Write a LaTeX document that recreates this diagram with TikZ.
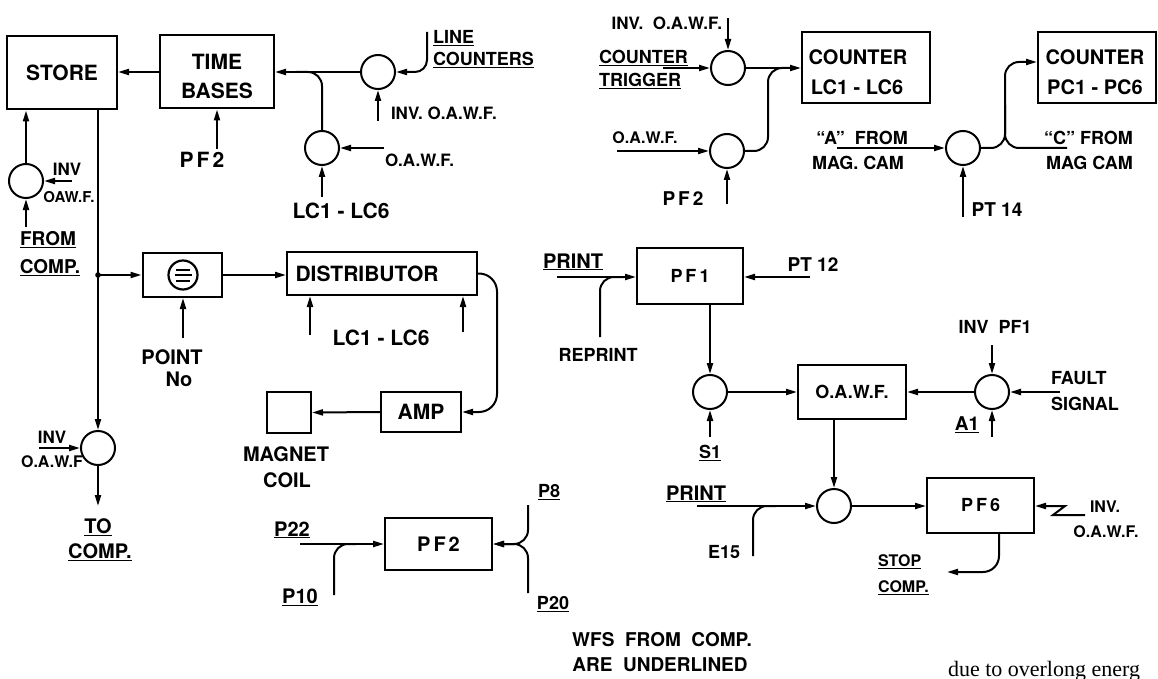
\documentclass[tikz,border=0pt]{standalone}
\usepackage{fontspec}
\setmainfont{TeX Gyre Heros}
\newfontfamily\pageserif{Liberation Serif}
\usetikzlibrary{arrows.meta}
\newcommand\fz[1]{\fontsize{#1}{#1}\selectfont\bfseries}
\newcommand\lsp{\hspace{3pt}}
\begin{document}
\begin{tikzpicture}[x=1pt,y=-1pt,
  line width=2pt,
  arr/.style={-{Triangle[length=11pt,width=6pt]}},
  blk/.style={draw, rectangle, inner sep=0pt, font=\fz{20}, align=center},
  gate/.style={draw, circle, minimum size=34pt, inner sep=0pt},
  lab/.style={inner sep=0pt, font=\fz{#1}},
  lab/.default=18,
  rc/.style={rounded corners=#1},
  rc/.default=14pt
]
\useasboundingbox (0,0) rectangle (1158,679);

% ---------------- boxes ----------------
\node[blk, minimum width=110pt, minimum height=73pt, font=\fz{21}] (store) at (62,73) {STORE};
\node[blk, minimum width=114pt, minimum height=73pt, font=\fz{21}] (tb) at (217,72) {};
\node[lab=21] (tbt1) at (217,62) {TIME};
\node[lab=21] (tbt2) at (217,91) {BASES};
\node[blk, minimum width=79pt, minimum height=44pt] (pt) at (182,275) {};
\node[draw, circle, minimum size=29pt, inner sep=0pt, line width=2.2pt] (ptsym) at (183,275) {};
\draw (176,269.5) -- (190,269.5) (174.5,275) -- (191.5,275) (176,280.5) -- (190,280.5);
\node[blk, minimum width=190pt, minimum height=43pt, font=\fz{21}] (dist) at (382,273.5) {DISTRIBUTOR\hspace{30pt}};
\node[blk, minimum width=80pt, minimum height=40pt, font=\fz{21}] (amp) at (421,412) {AMP};
\node[blk, minimum width=44pt, minimum height=41pt] (mag) at (289,412.5) {};
\node[blk, minimum width=107pt, minimum height=52pt] (pf2) at (438.5,544) {P\lsp F\lsp 2};
\node[blk, minimum width=128pt, minimum height=71pt] (cntl) at (866,67.5) {};
\node[lab=20] (cntlt1) at (858,57) {COUNTER};
\node[lab=20] (cntlt2) at (857,87) {LC1 - LC6};
\node[blk, minimum width=118pt, minimum height=71pt] (pcb) at (1097,67.5) {};
\node[lab=20] (pcbt1) at (1095,57) {COUNTER};
\node[lab=20] (pcbt2) at (1095,87) {PC1 - PC6};
\node[blk, minimum width=106pt, minimum height=56pt, font=\fz{18}] (pf1) at (690,276) {P\lsp F\lsp 1};
\node[blk, minimum width=108pt, minimum height=54pt, font=\fz{18}] (oawf) at (852,392) {O.A.W.F.};
\node[blk, minimum width=107pt, minimum height=55pt, font=\fz{18}] (pf6) at (980.5,505.5) {P\lsp F\lsp 6};

% ---------------- gates ----------------
\node[gate] (cl) at (378,72) {};
\node[gate] (clc) at (322,148) {};
\node[gate] (cs) at (26,181) {};
\node[gate] (cb) at (98,448) {};
\node[gate] (ct) at (728,68) {};
\node[gate] (co) at (727,151) {};
\node[gate] (cp) at (963,148) {};
\node[gate] (c1) at (710,392) {};
\node[gate] (cr) at (992,392) {};
\node[gate] (cm) at (834,506) {};

% ---------------- free ends ----------------
\coordinate (jdot) at (98,275);
\coordinate (j1) at (296,72);
\coordinate (lcin) at (427,32);
\coordinate (inv1) at (378,121);
\coordinate (oaw1) at (384,148);
\coordinate (lcl) at (322,197);
\coordinate (pf2a) at (217,149);
\coordinate (inv2) at (72,181);
\coordinate (fromc) at (26,227);
\coordinate (pointin) at (183,338);
\coordinate (lcd1) at (310,335);
\coordinate (lcd2) at (463,332);
\coordinate (dturn) at (497,273.5);
\coordinate (dturn2) at (497,412);
\coordinate (inv3) at (39,448);
\coordinate (tocomp) at (98,506);
\coordinate (p22) at (300,544);
\coordinate (p10) at (334,595);
\coordinate (p10j) at (356,544);
\coordinate (p8) at (528,505);
\coordinate (p20) at (528,593);
\coordinate (invtop) at (728,18);
\coordinate (ctrig) at (663,68);
\coordinate (oaw2) at (617,151);
\coordinate (pf2b) at (727,204);
\coordinate (mergeA) at (768,151);
\coordinate (mergeB) at (768,68);
\coordinate (mergeC) at (792,68);
\coordinate (afrom) at (837,148);
\coordinate (pt14) at (963,217);
\coordinate (vx) at (1005,148);
\coordinate (vy) at (1005,62);
\coordinate (cfrom) at (1067,148);
\coordinate (cup) at (1005,105);
\coordinate (print1) at (557,277);
\coordinate (reprint) at (600,337);
\coordinate (reprj) at (624,277);
\coordinate (pt12) at (810,277);
\coordinate (s1) at (710,437);
\coordinate (invpf1) at (992,345);
\coordinate (fault) at (1060,392);
\coordinate (a1) at (992,437);
\coordinate (print2) at (697,506);
\coordinate (e15) at (753,556);
\coordinate (e15j) at (776,506);
\coordinate (zin) at (1085,515);
\coordinate (zb) at (1053,515);
\coordinate (zt) at (1065,506);
\coordinate (stopc) at (947,572);

% ---------------- connectors ----------------
\draw[arr] (tb.west |- cl) -- (store.east |- cl);
\draw[arr] (cl.west) -- (tb.east |- cl);
\draw[rc] (clc.north) |- (j1);
\draw[arr, rc=12pt] (lcin) |- (cl.east);
\draw[arr] (inv1) -- (cl.south);
\draw[arr] (oaw1) -- (clc.east);
\draw[arr] (lcl) -- (clc.south);
\draw[arr] (pf2a) -- (tb.south);
\draw[arr] (cs.north) -- (cs.north |- store.south);
\draw[arr] (inv2) -- (cs.east);
\draw[arr] (fromc) -- (cs.south);
\draw[arr] (store.south -| jdot) -- (cb.north);
\fill (jdot) circle (2.8pt);
\draw[arr] (jdot) -- (pt.west);
\draw[arr] (pt.east) -- (dist.west |- pt.east);
\draw[arr] (pointin) -- (pointin |- pt.south);
\draw[arr] (lcd1) -- (lcd1 |- dist.south);
\draw[arr] (lcd2) -- (lcd2 |- dist.south);
\draw[arr, rc=18pt] (dist.east) -- (dturn) -- (dturn2) -- (amp.east);
\draw[arr] (amp.west) -- (mag.east);
\draw[arr] (inv3) -- (cb.west);
\draw[arr] (cb.south) -- (tocomp);
\draw[arr] (p22) -- (pf2.west);
\draw[rc] (p10) |- (p10j);
\draw[arr, rc] (p8) |- (pf2.east);
\draw[arr, rc] (p20) |- (pf2.east);
\draw[arr] (invtop) -- (ct.north);
\draw[arr] (ctrig) -- (ct.west);
\draw[arr] (ct.east) -- (cntl.west |- ct.east);
\draw[arr] (oaw2) -- (co.west);
\draw[arr] (pf2b) -- (co.south);
\draw[rc] (co.east) -- (mergeA) -- (mergeB) -- (mergeC);
\draw[arr] (afrom) -- (cp.west);
\draw[arr] (pt14) -- (cp.south);
\draw[arr, rc] (cp.east) -- (vx) -- (vy) -- (pcb.west |- vy);
\draw[rc] (cfrom) -- (vx) -- (cup);
\draw[arr] (print1) -- (pf1.west |- print1);
\draw[rc] (reprint) |- (reprj);
\draw[arr] (pt12) -- (pf1.east |- pt12);
\draw[arr] (pf1.south -| c1) -- (c1.north);
\draw[arr] (s1) -- (c1.south);
\draw[arr] (c1.east) -- (oawf.west);
\draw[arr] (cr.west) -- (oawf.east);
\draw[arr] (invpf1) -- (cr.north);
\draw[arr] (fault) -- (cr.east);
\draw[arr] (a1) -- (cr.south);
\draw[arr] (oawf.south -| cm) -- (cm.north);
\draw[arr] (print2) -- (cm.west);
\draw[rc] (e15) |- (e15j);
\draw[arr] (cm.east) -- (pf6.west |- cm.east);
\draw[arr] (zin) -- (zb) -- (zt) -- (pf6.east |- zt);
\draw[arr, rc=16pt] (pf6.south -| 999,0) |- (stopc);

% ---------------- labels ----------------
\node[lab=21] (l1) at (202,160) {P\lsp F\lsp 2};
\node[lab=21] (l2) at (341,211) {LC1 - LC6};
\node[lab=17] (l3) at (67,169) {INV};
\node[lab=15] (l4) at (69,197) {OAW.F.};
\node[lab=19] (l5) at (48,240) {\underline{FROM}};
\node[lab=19] (l6) at (50,268) {\underline{COMP.}};
\node[lab=20] (l7) at (172,357) {POINT};
\node[lab=20] (l8) at (179,379) {No};
\node[lab=21] (l9) at (381,338) {LC1 - LC6};
\node[lab=20] (l10) at (286,454) {MAGNET};
\node[lab=20] (l11) at (287,480) {COIL};
\node[lab=17] (l12) at (52,437) {INV};
\node[lab=16] (l13) at (52,462) {O.A.W.F};
\node[lab=20] (l14) at (98,527) {\underline{TO}};
\node[lab=20] (l15) at (100,552) {\underline{COMP.}};
\node[lab=20] (l16) at (292,530) {\underline{P22}};
\node[lab=20] (l17) at (300,597) {\underline{P10}};
\node[lab=18] (l18) at (549,492) {\underline{P8}};
\node[lab=18] (l19) at (553,604) {\underline{P20}};
\node[lab=19] (l20) at (662,640) {WFS\ \ FROM\ \ COMP.};
\node[lab=19] (l21) at (660,665) {ARE\ \ UNDERLINED};
\node[lab=18, anchor=west] (l22) at (432,38) {\underline{LINE}};
\node[lab=18, anchor=west] (l23) at (432,60) {\underline{COUNTERS}};
\node[lab=17, anchor=west] (l24) at (390,113) {INV. O.A.W.F.};
\node[lab=17, anchor=west] (l25) at (384,160) {O.A.W.F.};
\node[lab=17, anchor=east] (l26) at (723,23) {INV.\ \ O.A.W.F.};
\node[lab=18, anchor=west] (l27) at (598,58) {\underline{COUNTER}};
\node[lab=18, anchor=west] (l28) at (598,81) {\underline{TRIGGER}};
\node[lab=16] (l29) at (645,138) {O.A.W.F.};
\node[lab=19] (l30) at (683,199) {P\lsp F\lsp 2};
\node[lab=18] (l31) at (862,138) {``A''\ \ FROM};
\node[lab=18] (l32) at (858,163) {MAG.\ CAM};
\node[lab=18, anchor=west] (l33) at (1043,138) {``C'' FROM};
\node[lab=18, anchor=west] (l34) at (1045,163) {MAG\ CAM};
\node[lab=19] (l35) at (997,210) {PT 14};
\node[lab=20] (l36) at (573,262) {\underline{PRINT}};
\node[lab=18] (l37) at (598,355) {REPRINT};
\node[lab=19] (l38) at (813,265) {PT 12};
\node[lab=18] (l39) at (710,453) {\underline{S1}};
\node[lab=18] (l40) at (995,327) {INV\ \ PF1};
\node[lab=18, anchor=west] (l41) at (1050,378) {FAULT};
\node[lab=18, anchor=west] (l42) at (1050,404) {SIGNAL};
\node[lab=19] (l43) at (967,425) {\underline{A1}};
\node[lab=20] (l44) at (696,494) {\underline{PRINT}};
\node[lab=18] (l45) at (724,552) {E15};
\node[lab=16] (l46) at (1105,507) {INV.};
\node[lab=16] (l47) at (1106,532) {O.A.W.F.};
\node[lab=16, anchor=west] (l48) at (877,562) {\underline{STOP}};
\node[lab=16, anchor=west] (l49) at (877,588) {\underline{COMP.}};
\node[inner sep=0pt, anchor=base west, font=\pageserif\fontsize{22}{22}\selectfont] (l50) at (947,676) {due to overlong energ};
\end{tikzpicture}
\end{document}
